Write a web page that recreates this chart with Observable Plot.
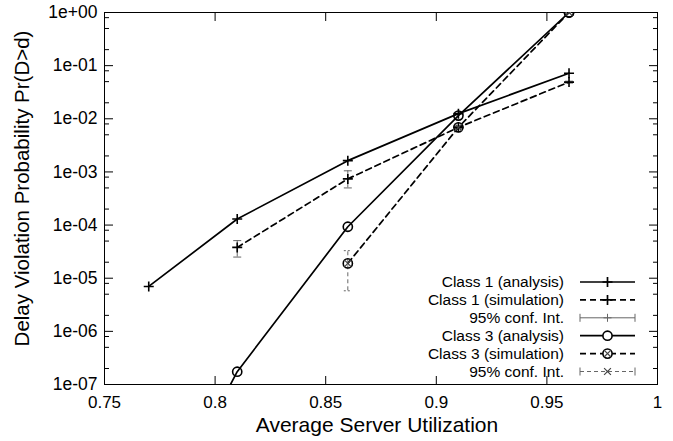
<!DOCTYPE html>
<html>
<head>
<meta charset="utf-8">
<script src="https://cdn.jsdelivr.net/npm/d3@7"></script>
<script src="https://cdn.jsdelivr.net/npm/@observablehq/plot@0.6"></script>
<style>
  html, body { margin: 0; padding: 0; background: #fff; }
  #chart { width: 673px; height: 441px; }
</style>
</head>
<body>
<div id="chart"></div>
<script>
// ---- data ----
const xTicks = [0.75, 0.8, 0.85, 0.9, 0.95, 1];
const xTickLabels = ["0.75", "0.8", "0.85", "0.9", "0.95", "1"];
const yTicks = [1e-7, 1e-6, 1e-5, 1e-4, 1e-3, 1e-2, 1e-1, 1];
const yTickLabels = ["1e-07", "1e-06", "1e-05", "1e-04", "1e-03", "1e-02", "1e-01", "1e+00"];
const yMinorMantissas = [2, 5, 8];

const class1AnalysisX = [0.77, 0.81, 0.86, 0.91, 0.96];
const class1AnalysisY = [7.0e-6, 1.3e-4, 1.63e-3, 1.25e-2, 7.2e-2];

const class1SimX = [0.81, 0.86, 0.91, 0.96];
const class1SimY = [3.8e-5, 7.4e-4, 6.9e-3, 4.9e-2];
const class1SimLo = [2.5e-5, 5.0e-4, 6.5e-3, 4.7e-2];
const class1SimHi = [5.1e-5, 1.05e-3, 7.3e-3, 5.1e-2];

const class3AnalysisX = [0.77, 0.81, 0.86, 0.91, 0.96];
const class3AnalysisY = [1.2e-10, 1.74e-7, 9.3e-5, 1.15e-2, 1.0];

const class3SimX = [0.86, 0.91, 0.96];
const class3SimY = [1.9e-5, 6.9e-3, 1.0];
const class3SimLo = [5.8e-6, 6.6e-3, 0.98];
const class3SimHi = [3.3e-5, 7.2e-3, 1.0];

const legendLabels = ["Class 1 (analysis)", "Class 1 (simulation)", "95% conf. Int.",
                      "Class 3 (analysis)", "Class 3 (simulation)", "95% conf. Int."];
const xTitle = "Average Server Utilization";
const yTitle = "Delay Violation Probability Pr(D>d)";

// ---- tables ----
const rows = (xs, ys) => xs.map((x, i) => ({x, y: ys[i]}));
const ciRows = (xs, ys, lo, hi) => xs.map((x, i) => ({x, y: ys[i], lo: lo[i], hi: hi[i]}));
const c1a = rows(class1AnalysisX, class1AnalysisY);
const c1s = ciRows(class1SimX, class1SimY, class1SimLo, class1SimHi);
const c3a = rows(class3AnalysisX, class3AnalysisY);
const c3s = ciRows(class3SimX, class3SimY, class3SimLo, class3SimHi);
const yMinor = yTicks.slice(0, -1).flatMap(t => yMinorMantissas.map(m => m * t));
const xLabelRows = xTicks.map((v, i) => ({v, label: xTickLabels[i]}));
const yLabelRows = yTicks.map((v, i) => ({v, label: yTickLabels[i]}));

// ---- custom symbols ----
const plusSym = {draw(ctx, size) { const r = Math.sqrt(size / Math.PI); ctx.moveTo(-r, 0); ctx.lineTo(r, 0); ctx.moveTo(0, -r); ctx.lineTo(0, r); }};
const timesSym = {draw(ctx, size) { const r = Math.sqrt(size / Math.PI) * 0.75; ctx.moveTo(-r, -r); ctx.lineTo(r, r); ctx.moveTo(-r, r); ctx.lineTo(r, -r); }};
const capSym = {draw(ctx, size) { const r = Math.sqrt(size / Math.PI); ctx.moveTo(-r, 0); ctx.lineTo(r, 0); }};

const FONT = "'Liberation Sans', Arial, Helvetica, sans-serif";
const DASH = "6,4";
const CI_GRAY = "#666";
const noText = () => "";

const chart = Plot.plot({
  width: 673,
  height: 441,
  marginLeft: 104,
  marginRight: 16,
  marginTop: 12,
  marginBottom: 57,
  style: {fontFamily: FONT, fontSize: "17px", background: "white", color: "black"},
  x: {domain: [0.75, 1]},
  y: {type: "log", domain: [1e-7, 1]},
  marks: [
    // inward ticks on all sides
    Plot.axisX(xTicks, {anchor: "bottom", tickSize: -8, tickFormat: noText, label: null, strokeWidth: 1}),
    Plot.axisX(xTicks, {anchor: "top", tickSize: -8, tickFormat: noText, label: null, strokeWidth: 1}),
    Plot.axisY(yTicks, {anchor: "left", tickSize: -9, tickFormat: noText, label: null, strokeWidth: 1}),
    Plot.axisY(yTicks, {anchor: "right", tickSize: -9, tickFormat: noText, label: null, strokeWidth: 1}),
    Plot.axisY(yMinor, {anchor: "left", tickSize: -5, tickFormat: noText, label: null, strokeWidth: 1}),
    Plot.axisY(yMinor, {anchor: "right", tickSize: -5, tickFormat: noText, label: null, strokeWidth: 1}),
    Plot.frame({stroke: "black", strokeWidth: 1}),
    // tick labels
    Plot.text(xLabelRows, {x: "v", text: "label", frameAnchor: "bottom", lineAnchor: "top", dy: 11, fontSize: 17, fill: "black"}),
    Plot.text(yLabelRows, {y: "v", text: "label", frameAnchor: "left", textAnchor: "end", lineAnchor: "middle", dx: -7, fontSize: 17.5, fill: "black"}),
    // confidence intervals
    Plot.ruleX(c1s, {x: "x", y1: "lo", y2: "hi", stroke: CI_GRAY, strokeWidth: 1}),
    Plot.dot(c1s, {x: "x", y: "lo", symbol: capSym, r: 4, stroke: CI_GRAY, strokeWidth: 1}),
    Plot.dot(c1s, {x: "x", y: "hi", symbol: capSym, r: 4, stroke: CI_GRAY, strokeWidth: 1}),
    Plot.ruleX(c3s, {x: "x", y1: "lo", y2: "hi", stroke: CI_GRAY, strokeWidth: 1, strokeDasharray: "4,3"}),
    Plot.dot(c3s, {x: "x", y: "lo", symbol: capSym, r: 4, stroke: CI_GRAY, strokeWidth: 1, strokeDasharray: "2,2"}),
    Plot.dot(c3s, {x: "x", y: "hi", symbol: capSym, r: 4, stroke: CI_GRAY, strokeWidth: 1, strokeDasharray: "2,2"}),
    // lines
    Plot.line(c1a, {x: "x", y: "y", stroke: "black", strokeWidth: 1.7, clip: true}),
    Plot.line(c1s, {x: "x", y: "y", stroke: "black", strokeWidth: 1.7, strokeDasharray: DASH, clip: true}),
    Plot.line(c3a, {x: "x", y: "y", stroke: "black", strokeWidth: 1.7, clip: true}),
    Plot.line(c3s, {x: "x", y: "y", stroke: "black", strokeWidth: 1.7, strokeDasharray: DASH, clip: true}),
    // markers
    Plot.dot(c1a, {x: "x", y: "y", symbol: plusSym, r: 5, stroke: "black", strokeWidth: 1.6, clip: true}),
    Plot.dot(c1s, {x: "x", y: "y", symbol: plusSym, r: 5, stroke: "black", strokeWidth: 1.6, clip: true}),
    Plot.dot(c3a, {x: "x", y: "y", symbol: "circle", r: 4.6, fill: "none", stroke: "black", strokeWidth: 1.6, clip: true}),
    Plot.dot(c3s, {x: "x", y: "y", symbol: "circle", r: 4.6, fill: "none", stroke: "black", strokeWidth: 1.6, clip: true}),
    Plot.dot(c3s, {x: "x", y: "y", symbol: timesSym, r: 4.6, stroke: "#444", strokeWidth: 1.2, clip: true}),
    // axis titles
    Plot.text([xTitle], {text: d => d, frameAnchor: "bottom", lineAnchor: "middle", textAnchor: "middle", dy: 41, dx: -4, fontSize: 21, fill: "black"}),
    Plot.text([yTitle], {text: d => d, frameAnchor: "left", textAnchor: "middle", lineAnchor: "middle", rotate: -90, dx: -82, dy: -10, fontSize: 20.5, fill: "black"})
  ]
});

document.getElementById("chart").appendChild(chart);

// ---- legend (inside plot area, bottom right) ----
const svg = d3.select(chart);
const lg = svg.append("g").attr("font-family", FONT).attr("font-size", 15.5);
const styles = [
  {dash: null, stroke: "black", w: 1.7, marker: "plus"},
  {dash: DASH, stroke: "black", w: 1.7, marker: "plus"},
  {dash: null, stroke: CI_GRAY, w: 1, marker: "plusThin", caps: true},
  {dash: null, stroke: "black", w: 1.7, marker: "circle"},
  {dash: DASH, stroke: "black", w: 1.7, marker: "circleTimes"},
  {dash: "4,3", stroke: CI_GRAY, w: 1, marker: "times", caps: true}
];
const textRight = 564, x0 = 580, x1 = 635, xm = (x0 + x1) / 2;
legendLabels.forEach((label, i) => {
  const y = 282 + i * 17.9;
  const s = styles[i];
  lg.append("text").attr("x", textRight).attr("y", y).attr("dy", "0.35em")
    .attr("text-anchor", "end").attr("fill", "black").text(label);
  const ln = lg.append("line").attr("x1", x0).attr("x2", x1).attr("y1", y).attr("y2", y)
    .attr("stroke", s.stroke).attr("stroke-width", s.w);
  if (s.dash) ln.attr("stroke-dasharray", s.dash);
  if (s.caps) {
    [x0, x1].forEach(cx => lg.append("line").attr("x1", cx).attr("x2", cx).attr("y1", y - 4).attr("y2", y + 4)
      .attr("stroke", s.stroke).attr("stroke-width", 1));
  }
  if (s.marker === "plus" || s.marker === "plusThin") {
    const r = s.marker === "plus" ? 5 : 4;
    lg.append("path").attr("d", `M${xm - r},${y}H${xm + r}M${xm},${y - r}V${y + r}`)
      .attr("stroke", s.stroke).attr("stroke-width", s.w).attr("fill", "none");
  }
  if (s.marker === "circle" || s.marker === "circleTimes") {
    lg.append("circle").attr("cx", xm).attr("cy", y).attr("r", 4.6).attr("fill", "white")
      .attr("stroke", "black").attr("stroke-width", 1.6);
  }
  if (s.marker === "times" || s.marker === "circleTimes") {
    const r = 3.4;
    lg.append("path").attr("d", `M${xm - r},${y - r}L${xm + r},${y + r}M${xm - r},${y + r}L${xm + r},${y - r}`)
      .attr("stroke", "#444").attr("stroke-width", 1.2).attr("fill", "none");
  }
});
</script>
</body>
</html>
